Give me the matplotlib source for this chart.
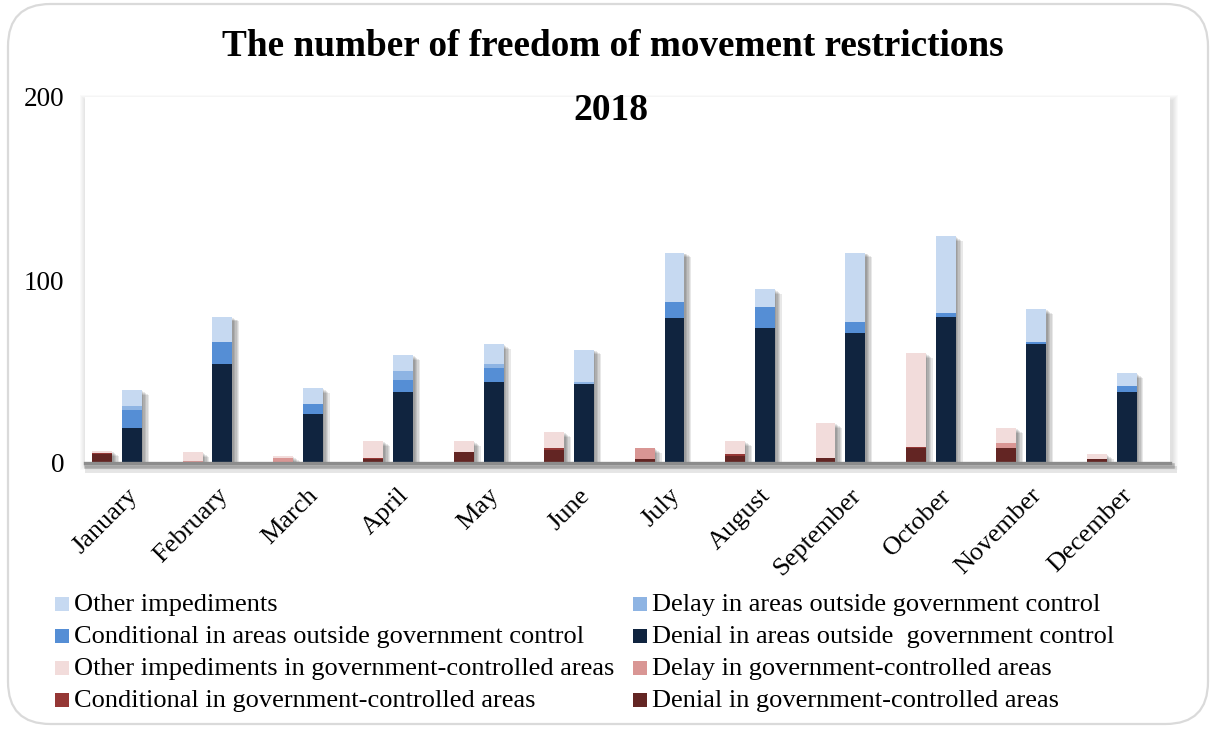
import matplotlib
matplotlib.use("Agg")
import matplotlib.pyplot as plt
import matplotlib.patheffects as pe
import matplotlib.transforms as mtransforms
from matplotlib.patches import FancyBboxPatch, Rectangle
import numpy as np

months = ["January", "February", "March", "April", "May", "June", "July",
          "August", "September", "October", "November", "December"]

# government-controlled areas (left bar, bottom -> top)
gov_denial = [5, 0, 0, 2, 6, 7, 2, 4, 3, 8, 8, 2]
gov_conditional = [0.5, 0, 0, 1, 0, 1, 0, 1, 0, 1, 0, 0]
gov_delay = [0, 1, 3, 0, 0, 0, 6, 0, 0, 0, 3, 0]
gov_other = [1, 5, 1, 9, 6, 9, 0, 7, 19, 51, 8, 3]

# areas outside government control (right bar, bottom -> top)
out_denial = [19, 54, 27, 39, 44, 43, 79, 74, 71, 80, 65, 39]
out_conditional = [10, 12, 5, 6.5, 8, 0, 9, 11, 6, 2, 1, 3]
out_delay = [2, 0, 0, 4.5, 2, 1, 0, 0, 0, 0, 0, 0]
out_other = [9, 14, 9, 9, 11, 18, 27, 10, 38, 42, 18, 7]

y_ticks = [0, 100, 200]

title = "The number of freedom of movement restrictions"
subtitle = "2018"

C_OTHER_OUT = "#C6D9F1"
C_DELAY_OUT = "#8EB4E3"
C_COND_OUT = "#558ED5"
C_DEN_OUT = "#10243F"
C_OTHER_GOV = "#F2DCDB"
C_DELAY_GOV = "#D99694"
C_COND_GOV = "#953735"
C_DEN_GOV = "#632523"

W, H = 1211, 731
fig = plt.figure(figsize=(W / 100, H / 100), dpi=100)
serif = ["Liberation Serif", "DejaVu Serif"]
plt.rcParams["font.family"] = serif

# outer rounded border
border = FancyBboxPatch((8 / W, 7 / H), 1200 / W, 720 / H,
                        boxstyle="round,pad=0,rounding_size=0.035",
                        transform=fig.transFigure, facecolor="white",
                        edgecolor="#DADADA", linewidth=1.6,
                        mutation_aspect=W / H)
fig.patches.append(border)

ax_l, ax_r, ax_t, ax_b = 85, 1170, 97, 463
pos = [ax_l / W, 1 - ax_b / H, (ax_r - ax_l) / W, (ax_b - ax_t) / H]

# soft glow around the plot area
for k in range(1, 7):
    fig.patches.append(Rectangle(((ax_l - k + 1) / W, 1 - (ax_b + k + 1) / H),
                                 (ax_r - ax_l + 2 * k + 1) / W,
                                 (ax_b - ax_t + 2 * k - 3) / H,
                                 transform=fig.transFigure,
                                 facecolor="black", alpha=0.02,
                                 edgecolor="none", zorder=1))

ax = fig.add_axes(pos, zorder=2)
ax.set_facecolor("white")

x = np.arange(len(months))
w = 0.22
xg = x - 0.31
xo = x + 0.02

gov_tot = np.array(gov_denial) + np.array(gov_conditional) + np.array(gov_delay) + np.array(gov_other)
out_tot = np.array(out_denial) + np.array(out_conditional) + np.array(out_delay) + np.array(out_other)

shadow = [pe.SimplePatchShadow(offset=(d, -0.7 * d), shadow_rgbFace="black", alpha=0.09)
          for d in (1.0, 2.0, 3.0, 4.0, 5.0)]
for xs, tot in ((xg, gov_tot), (xo, out_tot)):
    bs = ax.bar(xs, tot, w, color="white", zorder=1)
    for b in bs:
        b.set_path_effects(shadow)

def stack(xs, series):
    bottom = np.zeros(len(xs))
    for vals, col in series:
        ax.bar(xs, vals, w, bottom=bottom, color=col, zorder=3,
               edgecolor="none")
        bottom = bottom + np.array(vals)

stack(xg, [(gov_denial, C_DEN_GOV), (gov_conditional, C_COND_GOV),
           (gov_delay, C_DELAY_GOV), (gov_other, C_OTHER_GOV)])
stack(xo, [(out_denial, C_DEN_OUT), (out_conditional, C_COND_OUT),
           (out_delay, C_DELAY_OUT), (out_other, C_OTHER_OUT)])

ax.set_xlim(-0.5, 11.5)
ax.set_ylim(0, 200)
for s in ax.spines.values():
    s.set_visible(False)

# baseline with shadow
ax.axhline(0, color="#8C8C8C", lw=2.4, zorder=4, clip_on=False,
           path_effects=[pe.SimpleLineShadow(offset=(1.5, -2.5), shadow_color="black", alpha=0.22, linewidth=4),
                         pe.SimpleLineShadow(offset=(2.5, -4.5), shadow_color="black", alpha=0.1, linewidth=5),
                         pe.Normal()])

ax.set_yticks(y_ticks)
ax.set_yticklabels([str(v) for v in y_ticks], fontsize=19.5)
ax.tick_params(axis="y", length=0, pad=15)
ax.set_xticks(x)
ax.set_xticklabels(months, fontsize=19, rotation=45, ha="right",
                   va="center", rotation_mode="anchor")
ax.tick_params(axis="x", length=0, pad=21)
shift = mtransforms.ScaledTranslation(4 / 100, 0, fig.dpi_scale_trans)
for lbl in ax.get_xticklabels():
    lbl.set_transform(lbl.get_transform() + shift)

fig.text(613 / W, 1 - 47 / H, title, ha="center", va="center",
         fontsize=26.8, fontweight="bold")
fig.text(611 / W, 1 - 110 / H, subtitle, ha="center", va="center",
         fontsize=27, fontweight="bold", zorder=5)

# legend
legend_items = [
    ("Other impediments", C_OTHER_OUT), ("Delay in areas outside government control", C_DELAY_OUT),
    ("Conditional in areas outside government control", C_COND_OUT), ("Denial in areas outside  government control", C_DEN_OUT),
    ("Other impediments in government-controlled areas", C_OTHER_GOV), ("Delay in government-controlled areas", C_DELAY_GOV),
    ("Conditional in government-controlled areas", C_COND_GOV), ("Denial in government-controlled areas", C_DEN_GOV),
]
col_x = [55, 633]
row_y = [604, 636, 668, 700]
for i, (lab, col) in enumerate(legend_items):
    cx = col_x[i % 2]
    cy = row_y[i // 2]
    fig.patches.append(Rectangle((cx / W, 1 - (cy + 7) / H), 14 / W, 14 / H,
                                 transform=fig.transFigure, facecolor=col,
                                 edgecolor="none", zorder=3))
    fig.text((cx + 19) / W, 1 - (cy + 1) / H, lab, ha="left", va="center",
             fontsize=19, zorder=3)

fig.savefig("out.png", dpi=100)
